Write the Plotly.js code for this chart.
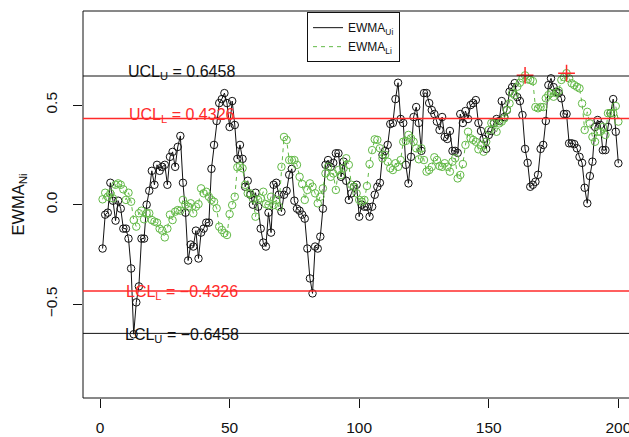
<!DOCTYPE html>
<html><head><meta charset="utf-8">
<script src="https://cdn.plot.ly/plotly-3.0.1.min.js"></script>
<style>html,body{margin:0;padding:0;overflow:hidden;background:#fff}</style>
</head><body><div id="chart" style="width:629px;height:437px"></div>
<script>
// EWMA_Ui series (black)
const ewmaU = [
 -0.22,-0.05,-0.04,0.11,0.02,-0.08,0.02,-0.02,-0.12,-0.12,
 -0.17,-0.32,-0.65,-0.49,-0.41,-0.17,-0.17,0.0,0.07,0.17,
 0.10,0.20,0.17,0.19,0.20,0.10,0.24,0.265,0.19,0.29,
 0.345,0.11,-0.04,-0.28,-0.20,-0.21,-0.13,-0.27,-0.14,-0.12,
 -0.09,-0.09,0.18,0.30,0.42,0.51,0.53,0.56,0.51,0.39,
 0.52,0.40,0.23,0.30,0.23,0.09,0.12,0.05,0.0,0.06,
 -0.01,-0.12,-0.19,-0.21,-0.04,-0.14,0.10,0.11,0.05,-0.035,
 0.05,0.07,0.15,0.18,0.02,-0.02,-0.03,-0.05,-0.07,-0.22,
 -0.37,-0.445,-0.21,-0.22,-0.16,-0.02,0.20,0.224,0.19,0.21,
 0.258,0.258,0.14,0.216,0.12,0.024,0.057,0.09,0.10,-0.06,
 0.0,-0.01,-0.01,-0.06,-0.01,0.05,0.09,0.11,0.25,0.27,
 0.30,0.405,0.41,0.53,0.612,0.43,0.41,0.20,0.107,0.24,
 0.44,0.49,0.41,0.27,0.56,0.56,0.51,0.475,0.455,0.417,
 0.375,0.44,0.34,0.33,0.37,0.27,0.27,0.26,0.455,0.41,
 0.47,0.43,0.50,0.51,0.525,0.41,0.37,0.33,0.28,0.35,
 0.37,0.41,0.43,0.42,0.52,0.44,0.475,0.567,0.59,0.61,
 0.54,0.52,0.45,0.28,0.21,0.09,0.10,0.115,0.15,0.28,
 0.30,0.42,0.60,0.634,0.59,0.567,0.56,0.534,0.455,0.455,
 0.308,0.308,0.304,0.283,0.24,0.21,0.085,0.007,0.144,0.216,
 0.39,0.425,0.40,0.274,0.274,0.39,0.459,0.53,0.366,0.208
];
// EWMA_Li series (green)
const ewmaL = [
 0.027,0.06,0.04,0.057,0.032,0.10,0.107,0.10,0.077,0.024,
 0.06,0.015,-0.077,-0.11,-0.043,-0.03,-0.073,-0.043,-0.043,-0.077,
 -0.085,-0.09,-0.12,-0.13,-0.164,-0.12,-0.05,-0.077,-0.035,-0.027,
 -0.03,0.024,0.0,-0.01,0.007,-0.043,-0.01,0.003,0.082,0.057,
 0.065,0.04,0.024,0.015,-0.018,-0.11,-0.127,-0.143,-0.152,-0.047,
 -0.002,0.04,0.188,0.194,0.183,0.10,0.057,0.057,0.03,-0.06,
 0.024,0.032,0.065,0.003,-0.002,0.04,-0.002,0.024,-0.01,0.19,
 0.34,0.325,0.224,0.224,0.224,0.20,0.14,0.104,0.024,0.074,
 0.107,0.09,0.057,0.007,0.04,0.082,0.157,0.19,0.14,0.157,
 0.074,0.174,0.149,0.183,0.233,0.20,0.10,0.09,0.057,0.024,
 0.015,0.024,0.094,0.204,0.274,0.328,0.325,0.283,0.233,0.25,
 0.216,0.183,0.174,0.208,0.19,0.224,0.316,0.32,0.35,0.333,
 0.316,0.283,0.228,0.283,0.224,0.166,0.174,0.19,0.238,0.224,
 0.194,0.19,0.208,0.19,0.166,0.216,0.233,0.132,0.149,0.204,
 0.30,0.366,0.333,0.325,0.316,0.278,0.30,0.266,0.316,0.375,
 0.41,0.408,0.366,0.408,0.417,0.433,0.475,0.508,0.56,0.55,
 0.592,0.612,0.634,0.649,0.629,0.626,0.62,0.49,0.484,0.49,
 0.49,0.534,0.55,0.56,0.542,0.56,0.572,0.626,0.64,0.66,
 0.634,0.609,0.60,0.592,0.584,0.508,0.375,0.466,0.408,0.34,
 0.316,0.366,0.366,0.39,0.35,0.459,0.459,0.459,0.495,0.417
];
const uclU = 0.6458, lclU = -0.6458;
const uclL = 0.4326, lclL = -0.4326;
const xTicks = [0, 50, 100, 150, 200];
const yTicks = [-0.5, 0.0, 0.5];
const labelU = ['UCL<sub>U</sub> = 0.6458', 'LCL<sub>U</sub> = \u22120.6458'];
const labelL = ['UCL<sub>L</sub> = 0.4326', 'LCL<sub>L</sub> = \u22120.4326'];

const idx = ewmaU.map((_, i) => i + 1);
const outIdx = idx.filter((_, i) => ewmaL[i] > uclU);
const outVal = outIdx.map(i => ewmaL[i - 1]);

const GREEN = '#62b946', RED = '#ff2a2a', BLK = '#111111';
const FONT = 'Liberation Sans, Arial, Helvetica, sans-serif';

const traces = [
  {x: idx, y: ewmaU, type: 'scatter', mode: 'lines+markers', showlegend: false,
   line: {color: BLK, width: 1},
   marker: {symbol: 'circle-open', size: 7.5, color: BLK, line: {width: 1, color: BLK}}},
  {x: idx, y: ewmaL, type: 'scatter', mode: 'lines+markers', showlegend: false,
   line: {color: GREEN, width: 1, dash: '4px,4px'},
   marker: {symbol: 'circle-open', size: 7.5, color: GREEN, line: {width: 1, color: GREEN}}},
  {x: outIdx, y: outVal, type: 'scatter', mode: 'markers', showlegend: false,
   marker: {symbol: 'cross-thin-open', size: 12, color: RED, line: {width: 1.5, color: RED}}},
  {x: [null], y: [null], type: 'scatter', mode: 'lines', name: 'EWMA<sub>Ui</sub>',
   line: {color: BLK, width: 1}},
  {x: [null], y: [null], type: 'scatter', mode: 'lines', name: 'EWMA<sub>Li</sub>',
   line: {color: GREEN, width: 1, dash: '4px,4px'}}
];

function hline(v, color, w) {
  return {type: 'line', xref: 'paper', x0: 0, x1: 1, yref: 'y', y0: v, y1: v,
          line: {color: color, width: w}};
}
function label(v, text, color, shift) {
  return {x: 31.6, y: v, xref: 'x', yref: 'y', text: text, showarrow: false,
          xanchor: 'center', yanchor: 'middle', yshift: shift,
          font: {family: FONT, size: 16, color: color}};
}

const layout = {
  width: 629, height: 437,
  margin: {l: 83, r: 0, t: 11, b: 39, pad: 0},
  paper_bgcolor: '#fff', plot_bgcolor: '#fff',
  font: {family: FONT, size: 15.5, color: BLK},
  xaxis: {range: [-6.56, 204.1], tickvals: xTicks, ticks: 'outside', ticklen: 9,
          tickcolor: BLK, tickwidth: 1, showgrid: false, zeroline: false, showline: false,
          ticklabelstandoff: 6, ticklabeloverflow: 'allow', tickfont: {size: 15.5}},
  yaxis: {range: [-0.97, 0.972], tickvals: yTicks, tickformat: '.1f', ticks: 'outside',
          ticklen: 9, tickcolor: BLK, tickwidth: 1, showgrid: false, zeroline: false,
          showline: false, tickangle: -90, ticklabelstandoff: 10, tickfont: {size: 15.5},
          title: {text: 'EWMA<sub>Ni</sub>', font: {size: 16.5}, standoff: 14}},
  shapes: [
    {type: 'rect', xref: 'paper', yref: 'paper', x0: 0, x1: 1.05, y0: 0, y1: 1,
     line: {color: BLK, width: 1}, fillcolor: 'rgba(0,0,0,0)'},
    hline(uclU, BLK, 1), hline(lclU, BLK, 1),
    hline(uclL, RED, 1.5), hline(lclL, RED, 1.5)
  ],
  annotations: [
    label(uclU, labelU[0], BLK, 4), label(lclU, labelU[1], BLK, -2),
    label(uclL, labelL[0], RED, 3), label(lclL, labelL[1], RED, -2)
  ],
  showlegend: true,
  legend: {x: 0.4103, y: 0.997, xanchor: 'left', yanchor: 'top',
           bordercolor: BLK, borderwidth: 1, bgcolor: '#fff',
           font: {size: 12, color: BLK}, tracegroupgap: 0}
};

Plotly.newPlot('chart', traces, layout, {displayModeBar: false, staticPlot: true});
</script></body></html>
